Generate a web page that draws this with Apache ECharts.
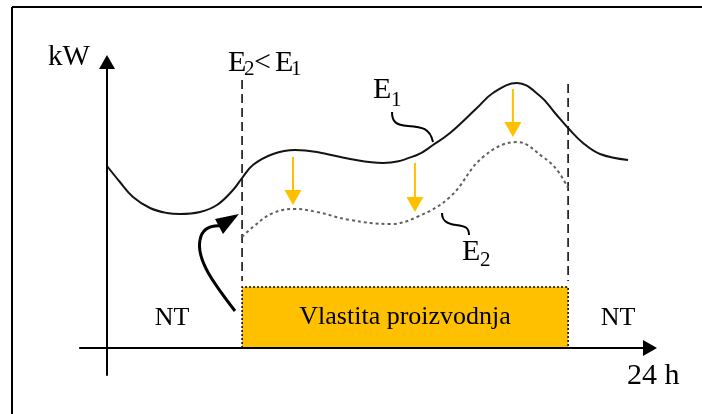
<!DOCTYPE html>
<html>
<head>
<meta charset="utf-8">
<script src="https://cdn.jsdelivr.net/npm/echarts@6/dist/echarts.min.js"></script>
<style>
html, body { margin: 0; padding: 0; background: #fff; }
#chart { width: 702px; height: 414px; }
</style>
</head>
<body>
<div id="chart"></div>
<script>
// podaci očitani sa slike (x u satima, y u kW, proizvoljna skala)
var e1Hours = [0, 0.57, 1.15, 1.90, 2.65, 3.23, 4.11, 4.86, 5.57, 5.97, 6.45, 7.34, 8.31, 9.28, 10.74, 12.20, 13.70, 14.41, 15.16, 16.35, 17.06, 18.12, 19.14, 19.80, 20.38, 21.04, 21.79, 23.03];
var e1Load  = [18.2, 16.6, 15.1, 14.0, 13.5, 13.4, 13.6, 14.3, 15.8, 17.0, 18.3, 19.4, 19.8, 19.6, 18.9, 18.5, 19.3, 20.3, 21.5, 24.0, 25.5, 26.5, 25.2, 23.5, 22.0, 20.5, 19.4, 18.8];

var e2Hours = [5.97, 6.45, 7.34, 8.31, 9.28, 10.74, 12.51, 13.70, 15.16, 16.62, 18.12, 19.27, 19.89, 20.38];
var e2Load  = [11.1, 12.1, 13.5, 13.9, 13.6, 12.8, 12.4, 13.1, 15.1, 19.1, 20.6, 19.1, 17.8, 16.0];

// period vlastite proizvodnje (isprekidane linije) i visina pravougaonika
var peakPeriod = [5.97, 20.38];
var periodLineTop = [26.8, 26.4];
var ownGeneration = 6.1;

// žute strelice: sat, od, do
var arrowHours = [8.22, 13.61, 17.94];
var arrowFrom  = [19.1, 18.5, 25.9];
var arrowTo    = [14.3, 13.6, 21.1];

var yellow = '#FFC000';
var serif = '"Liberation Serif", "Times New Roman", serif';

function zip(a, b) {
    var out = [];
    for (var i = 0; i < a.length; i++) {
        out.push([a[i], b[i]]);
    }
    return out;
}

var chart = echarts.init(document.getElementById('chart'));

// pravougaonik "Vlastita proizvodnja"
function renderOwnGen(params, api) {
    var p0 = api.coord([api.value(0), api.value(2)]);
    var p1 = api.coord([api.value(1), 0]);
    var w = p1[0] - p0[0], h = p1[1] - p0[1];
    return {
        type: 'group',
        children: [
            { type: 'rect', shape: { x: p0[0], y: p0[1], width: w, height: h }, style: { fill: yellow } },
            {
                type: 'polyline',
                shape: { points: [[p0[0], p1[1]], [p0[0], p0[1]], [p1[0], p0[1]], [p1[0], p1[1]]] },
                style: { stroke: '#000', lineWidth: 1.5, lineDash: [2, 2], fill: null }
            },
            {
                type: 'text', x: p0[0] + w / 2, y: p0[1] + h / 2,
                style: { text: 'Vlastita proizvodnja', fill: '#000', fontSize: 26, fontFamily: serif, align: 'center', verticalAlign: 'middle' }
            }
        ]
    };
}

// isprekidane vertikalne linije
function renderPeriodLine(params, api) {
    var a = api.coord([api.value(0), api.value(1)]);
    var b = api.coord([api.value(0), ownGeneration]);
    return {
        type: 'line',
        shape: { x1: a[0], y1: a[1], x2: b[0], y2: b[1] - 6 },
        style: { stroke: '#000', lineWidth: 1.5, lineDash: [9, 5] }
    };
}

// žute strelice nadole
function renderArrow(params, api) {
    var top = api.coord([api.value(0), api.value(1)]);
    var tip = api.coord([api.value(0), api.value(2)]);
    var headH = 15, headW = 17;
    return {
        type: 'group',
        children: [
            { type: 'line', shape: { x1: top[0], y1: top[1], x2: tip[0], y2: tip[1] - headH + 1 }, style: { stroke: yellow, lineWidth: 2 } },
            {
                type: 'polygon',
                shape: { points: [[tip[0] - headW / 2, tip[1] - headH], [tip[0] + headW / 2, tip[1] - headH], [tip[0], tip[1]]] },
                style: { fill: yellow }
            }
        ]
    };
}

var periodData = [];
for (var i = 0; i < peakPeriod.length; i++) {
    periodData.push([peakPeriod[i], periodLineTop[i]]);
}
var arrowData = [];
for (var j = 0; j < arrowHours.length; j++) {
    arrowData.push([arrowHours[j], arrowFrom[j], arrowTo[j]]);
}

var option = {
    animation: false,
    grid: { left: 79.85, right: 52, top: 62, bottom: 39 },
    xAxis: {
        type: 'value', min: -1.2, max: 24, z: 10,
        axisLine: { onZero: true, lineStyle: { color: '#000', width: 2 }, symbol: ['none', 'triangle'], symbolSize: [16, 14] },
        axisTick: { show: false }, axisLabel: { show: false }, splitLine: { show: false }
    },
    yAxis: {
        type: 'value', min: -2.7, max: 28.6, z: 10,
        axisLine: { onZero: true, lineStyle: { color: '#000', width: 2 }, symbol: ['none', 'triangle'], symbolSize: [16, 14] },
        axisTick: { show: false }, axisLabel: { show: false }, splitLine: { show: false }
    },
    series: [
        {
            type: 'custom', renderItem: renderOwnGen, z: 1,
            data: [[peakPeriod[0], peakPeriod[1], ownGeneration]]
        },
        {
            type: 'custom', renderItem: renderPeriodLine, z: 1,
            data: periodData
        },
        {
            name: 'E1', type: 'line', smooth: 0.4, symbol: 'none', z: 3,
            lineStyle: { color: '#141414', width: 2 },
            data: zip(e1Hours, e1Load)
        },
        {
            name: 'E2', type: 'line', smooth: 0.4, symbol: 'none', z: 3,
            lineStyle: { color: '#606060', width: 2, type: [3, 3] },
            data: zip(e2Hours, e2Load)
        },
        {
            type: 'custom', renderItem: renderArrow, z: 4,
            data: arrowData
        }
    ],
    graphic: [
        // okvir
        { type: 'line', shape: { x1: 12, y1: 7, x2: 702, y2: 7 }, style: { stroke: '#000', lineWidth: 2 } },
        { type: 'line', shape: { x1: 12, y1: 7, x2: 12, y2: 414 }, style: { stroke: '#000', lineWidth: 2 } },

        // natpisi
        { type: 'text', x: 48, y: 57, style: { text: 'kW', fill: '#000', fontSize: 29, fontFamily: serif, align: 'left', verticalAlign: 'middle' } },
        { type: 'text', x: 228, y: 63, style: { text: 'E', fill: '#000', fontSize: 30, fontFamily: serif, align: 'left', verticalAlign: 'middle' } },
        { type: 'text', x: 244, y: 69, style: { text: '2', fill: '#000', fontSize: 21, fontFamily: serif, align: 'left', verticalAlign: 'middle' } },
        { type: 'text', x: 254, y: 63, style: { text: '<', fill: '#000', fontSize: 30, fontFamily: serif, align: 'left', verticalAlign: 'middle' } },
        { type: 'text', x: 275, y: 63, style: { text: 'E', fill: '#000', fontSize: 30, fontFamily: serif, align: 'left', verticalAlign: 'middle' } },
        { type: 'text', x: 291, y: 69, style: { text: '1', fill: '#000', fontSize: 21, fontFamily: serif, align: 'left', verticalAlign: 'middle' } },

        { type: 'text', x: 373, y: 90, style: { text: 'E', fill: '#000', fontSize: 30, fontFamily: serif, align: 'left', verticalAlign: 'middle' } },
        { type: 'text', x: 391, y: 100, style: { text: '1', fill: '#000', fontSize: 21, fontFamily: serif, align: 'left', verticalAlign: 'middle' } },
        { type: 'text', x: 462, y: 252, style: { text: 'E', fill: '#000', fontSize: 30, fontFamily: serif, align: 'left', verticalAlign: 'middle' } },
        { type: 'text', x: 480, y: 260, style: { text: '2', fill: '#000', fontSize: 21, fontFamily: serif, align: 'left', verticalAlign: 'middle' } },

        { type: 'text', x: 172, y: 318, style: { text: 'NT', fill: '#000', fontSize: 26, fontFamily: serif, align: 'center', verticalAlign: 'middle' } },
        { type: 'text', x: 618, y: 318, style: { text: 'NT', fill: '#000', fontSize: 26, fontFamily: serif, align: 'center', verticalAlign: 'middle' } },
        { type: 'text', x: 627, y: 376, style: { text: '24 h', fill: '#000', fontSize: 30, fontFamily: serif, align: 'left', verticalAlign: 'middle' } },

        // pokazivači za E1 i E2
        { type: 'bezierCurve', shape: { x1: 392, y1: 112, cpx1: 392, cpy1: 122, cpx2: 396, cpy2: 125, x2: 408, y2: 126 }, style: { stroke: '#000', lineWidth: 2, fill: null } },
        { type: 'bezierCurve', shape: { x1: 408, y1: 126, cpx1: 422, cpy1: 127, cpx2: 430, cpy2: 128, x2: 433, y2: 142 }, style: { stroke: '#000', lineWidth: 2, fill: null } },
        { type: 'bezierCurve', shape: { x1: 442, y1: 213, cpx1: 442, cpy1: 221, cpx2: 447, cpy2: 224, x2: 456, y2: 225 }, style: { stroke: '#000', lineWidth: 2, fill: null } },
        { type: 'bezierCurve', shape: { x1: 456, y1: 225, cpx1: 466, cpy1: 226, cpx2: 469, cpy2: 228, x2: 469, y2: 235 }, style: { stroke: '#000', lineWidth: 2, fill: null } },

        // zakrivljena crna strelica
        { type: 'bezierCurve', shape: { x1: 235, y1: 311, cpx1: 215, cpy1: 285, cpx2: 196, cpy2: 260, x2: 200, y2: 240 }, style: { stroke: '#000', lineWidth: 3, fill: null } },
        { type: 'bezierCurve', shape: { x1: 200, y1: 240, cpx1: 202, cpy1: 229, cpx2: 210, cpy2: 225, x2: 222, y2: 226 }, style: { stroke: '#000', lineWidth: 3, fill: null } },
        { type: 'polygon', shape: { points: [[239, 214], [215, 219], [223, 234]] }, style: { fill: '#000' } }
    ]
};

chart.setOption(option);
</script>
</body>
</html>
